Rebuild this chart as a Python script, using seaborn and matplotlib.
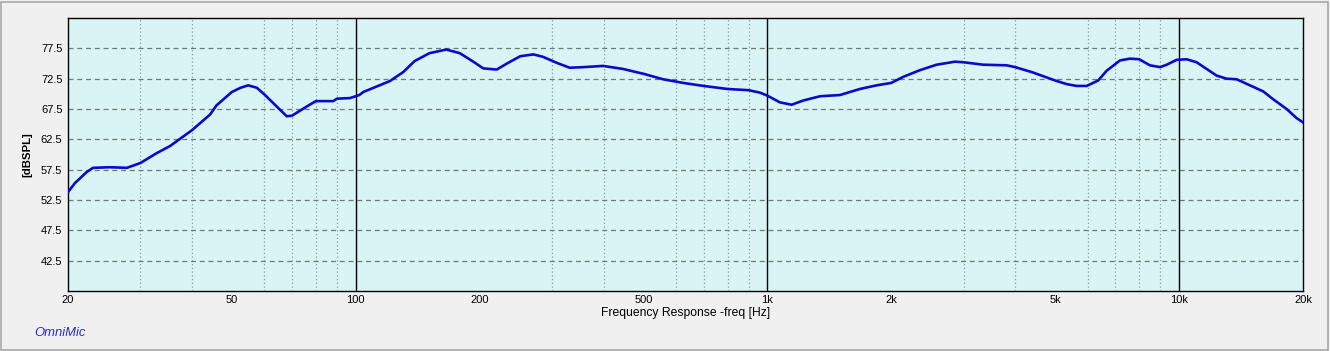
import matplotlib
matplotlib.use('Agg')
import matplotlib.pyplot as plt
from matplotlib.patches import Rectangle
from matplotlib.ticker import LogLocator, FixedLocator, NullFormatter
import seaborn as sns
import pandas as pd

freq = [20, 20.8, 22.2, 23.0, 25.3, 27.8, 30, 32.8, 35.4, 40, 44.3, 45.9, 50, 52.5, 54.8, 57.5,
        60, 64.3, 68.0, 70, 76.0, 80, 88.2, 90, 96.8, 102, 104.3, 121, 130.5, 139,
        151, 166, 179, 193, 204, 220, 233, 251, 270, 285, 308, 331, 357, 399, 446,
        500, 558, 624, 700, 800, 900, 959, 1000, 1072, 1145, 1222, 1342, 1500, 1678,
        1842, 2000, 2138, 2347, 2576, 2855, 3000, 3344, 3812, 4000, 4424, 4592, 5000,
        5335, 5638, 5964, 6362, 6668, 7184, 7598, 8000, 8496, 9000, 9332, 9864, 10434,
        11034, 11668, 12340, 13046, 13798, 14860, 16012, 16932, 18250, 19294, 20000]
spl = [53.8, 55.3, 57.1, 57.8, 57.9, 57.8, 58.6, 60.2, 61.4, 64.0, 66.6, 68.1, 70.3, 71.0, 71.4, 71.0,
       69.9, 67.9, 66.3, 66.4, 67.9, 68.8, 68.8, 69.2, 69.3, 69.8, 70.3, 72.1, 73.6, 75.4,
       76.7, 77.3, 76.7, 75.3, 74.2, 74.0, 75.0, 76.2, 76.5, 76.1, 75.1, 74.3, 74.4, 74.6, 74.1,
       73.3, 72.4, 71.8, 71.3, 70.8, 70.6, 70.2, 69.7, 68.6, 68.2, 68.9, 69.6, 69.8, 70.8,
       71.4, 71.8, 72.8, 73.9, 74.8, 75.3, 75.2, 74.8, 74.7, 74.4, 73.5, 73.1, 72.2,
       71.6, 71.3, 71.3, 72.2, 73.8, 75.5, 75.8, 75.7, 74.7, 74.4, 74.8, 75.6, 75.7,
       75.2, 74.1, 73.0, 72.5, 72.4, 71.4, 70.4, 69.1, 67.5, 66.0, 65.3]

xtick_vals = [20, 50, 100, 200, 500, 1000, 2000, 5000, 10000, 20000]
xtick_labels = ['20', '50', '100', '200', '500', '1k', '2k', '5k', '10k', '20k']
ytick_vals = [42.5, 47.5, 52.5, 57.5, 62.5, 67.5, 72.5, 77.5]

df = pd.DataFrame({'freq': freq, 'spl': spl})

plt.rcParams['font.family'] = ['Liberation Sans', 'DejaVu Sans']

fig = plt.figure(figsize=(13.3, 3.51), dpi=100, facecolor='#f0f0f0')
ax = fig.add_axes([68 / 1330, 1 - 291 / 351, 1235 / 1330, 273 / 351])
ax.set_facecolor('#d8f4f4')

sns.lineplot(data=df, x='freq', y='spl', ax=ax, color='#0a0ac8', linewidth=1.9, zorder=5)

ax.set_xscale('log')
ax.set_xlim(20, 20000)
ax.set_ylim(37.5, 82.5)

# 눈금
ax.xaxis.set_major_locator(FixedLocator(xtick_vals))
ax.set_xticklabels(xtick_labels)
ax.xaxis.set_minor_locator(LogLocator(base=10, subs=range(2, 10)))
ax.xaxis.set_minor_formatter(NullFormatter())
ax.set_yticks(ytick_vals)
ax.set_yticklabels([f'{v:.1f}' for v in ytick_vals])
ax.tick_params(axis='both', which='both', length=0, labelsize=8, colors='black')
ax.tick_params(axis='x', pad=3)
ax.tick_params(axis='y', pad=4)

# 그리드
ax.grid(False)
ax.grid(which='minor', axis='x', color='#8c9c9c', linestyle=(0, (1, 2)), linewidth=0.9)
ax.grid(which='major', axis='y', color='#707878', linestyle=(0, (4, 3)), linewidth=0.9)
for dec in [100, 1000, 10000]:
    ax.axvline(dec, color='black', linewidth=1.0, zorder=3)

for s in ax.spines.values():
    s.set_color('black')
    s.set_linewidth(1.0)

ax.set_xlabel('Frequency Response -freq [Hz]', fontsize=8.7, labelpad=1)
ax.set_ylabel('[dBSPL]', fontsize=8.2, fontweight='bold', labelpad=6)

fig.text(34 / 1330, 1 - 333 / 351, 'OmniMic', color='#2a2ad8', fontsize=9.4,
         style='italic', va='center', ha='left')

fig.patches.append(Rectangle((1 / 1330, 1 / 351), 1327 / 1330, 348 / 351,
                             transform=fig.transFigure, fill=False,
                             edgecolor='#a8a8a8', linewidth=1.2))

plt.savefig('out.png', dpi=100, facecolor=fig.get_facecolor())
